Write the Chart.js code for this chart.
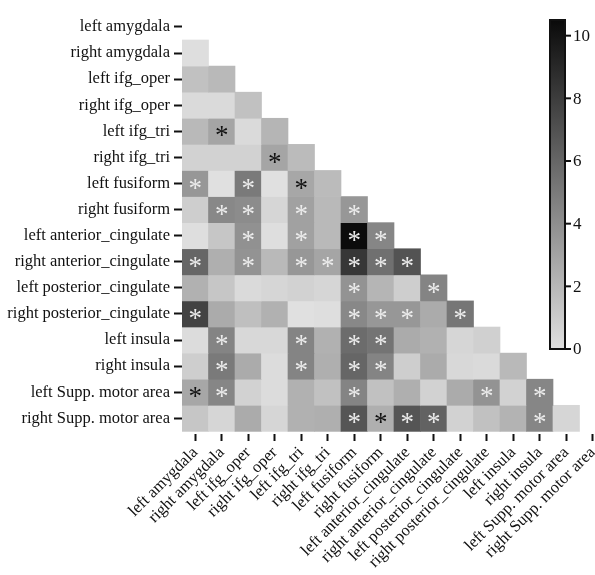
<!DOCTYPE html>
<html>
<head>
<meta charset="utf-8">
<script src="https://cdn.jsdelivr.net/npm/chart.js@4"></script>
<style>
  html, body { margin: 0; padding: 0; background: #fff; overflow: hidden; }
  #wrap { width: 620px; height: 575px; }
</style>
</head>
<body>
<div id="wrap"><canvas id="heat"></canvas></div>
<script>
var regions = [
    'left amygdala', 'right amygdala', 'left ifg_oper', 'right ifg_oper',
    'left ifg_tri', 'right ifg_tri', 'left fusiform', 'right fusiform',
    'left anterior_cingulate', 'right anterior_cingulate',
    'left posterior_cingulate', 'right posterior_cingulate',
    'left insula', 'right insula', 'left Supp. motor area', 'right Supp. motor area'
]
// lower triangle, row i has i values (columns 0..i-1)
var values = [
    [],
    [0.1],
    [1.5, 1.9],
    [0.3, 0.3, 1.5],
    [1.9, 2.9, 0.3, 2.1],
    [0.7, 0.7, 0.7, 2.9, 1.8],
    [3.6, 0.0, 5.0, 0.0, 2.8, 1.8],
    [0.9, 4.3, 4.1, 0.5, 3.1, 1.9, 3.6],
    [0.1, 1.3, 3.9, 0.1, 3.1, 1.9, 10.4, 4.4],
    [6.0, 2.4, 3.8, 1.9, 3.6, 2.9, 8.3, 5.5, 6.9],
    [2.3, 1.3, 0.3, 0.5, 0.7, 0.5, 3.8, 2.1, 0.9, 4.5],
    [7.7, 2.6, 1.6, 2.3, 0.0, 0.1, 4.3, 3.6, 3.6, 2.6, 5.2],
    [0.2, 4.5, 0.4, 0.4, 4.5, 2.3, 5.7, 5.3, 2.6, 2.3, 0.5, 0.8],
    [0.9, 5.0, 2.6, 0.2, 4.5, 2.4, 6.0, 4.5, 0.9, 2.6, 0.4, 0.3, 1.9],
    [2.8, 4.4, 0.7, 0.2, 2.3, 1.5, 4.5, 1.5, 2.4, 0.7, 2.6, 3.8, 0.7, 4.4],
    [1.3, 0.5, 2.6, 0.5, 2.3, 2.4, 6.8, 2.4, 6.8, 6.2, 0.7, 1.5, 2.2, 4.4, 0.5]
]
// significance marks: 'w' = white asterisk, 'b' = black asterisk, '.' = none
var stars = [
    '',
    '.',
    '..',
    '...',
    '.b..',
    '...b.',
    'w.w.b.',
    '.ww.w.w',
    '..w.w.ww',
    'w.w.wwwww',
    '......w..w',
    'w.....www.w',
    '.w..w.ww....',
    '.w..w.ww.....',
    'bw....w....w.w',
    '......wbww...w.'
]
var colorbarTicks = [0, 2, 4, 6, 8, 10]
var colorMax = 10.5

function grey(v) {
    var g = Math.round(224 - Math.min(v, colorMax) / colorMax * 214)
    return 'rgb(' + g + ',' + g + ',' + g + ')'
}

var fontFamily = '"Liberation Serif", "Times New Roman", serif'

var datasets = regions.map(function(row, i) {
    return {
        label: row,
        grouped: false,
        barPercentage: 1,
        categoryPercentage: 1,
        borderWidth: 0,
        data: regions.map(function(col, j) { return j < i ? [i - 0.5, i + 0.5] : null }),
        backgroundColor: regions.map(function(col, j) { return j < i ? grey(values[i][j]) : 'rgba(0,0,0,0)' })
    }
})

// asterisks on significant cells
var starPlugin = {
    id: 'stars',
    afterDatasetsDraw: function(chart) {
        var ctx = chart.ctx
        var xs = chart.scales.x, ys = chart.scales.y
        ctx.save()
        ctx.font = '27px ' + fontFamily
        ctx.textAlign = 'center'
        ctx.textBaseline = 'middle'
        stars.forEach(function(row, i) {
            row.split('').forEach(function(s, j) {
                if (s === '.') return
                ctx.fillStyle = s === 'w' ? '#ececec' : '#111'
                ctx.fillText('*', xs.getPixelForValue(j), ys.getPixelForValue(i) + 6)
            })
        })
        ctx.restore()
    }
}

// colour bar in the upper right
var colorbarPlugin = {
    id: 'colorbar',
    afterDraw: function(chart) {
        var ctx = chart.ctx
        var left = 550, width = 15, top = 20, bottom = 349
        function cbY(v) { return bottom - v / colorMax * (bottom - top) }
        ctx.save()
        var grad = ctx.createLinearGradient(0, bottom, 0, top)
        grad.addColorStop(0, grey(0))
        grad.addColorStop(1, grey(colorMax))
        ctx.fillStyle = grad
        ctx.fillRect(left, top, width, bottom - top)
        ctx.strokeStyle = '#111'
        ctx.lineWidth = 2
        ctx.strokeRect(left, top, width, bottom - top)
        ctx.font = '17px ' + fontFamily
        ctx.fillStyle = '#111'
        ctx.textAlign = 'left'
        ctx.textBaseline = 'middle'
        colorbarTicks.forEach(function(t) {
            var y = cbY(t)
            ctx.beginPath()
            ctx.moveTo(left + width, y)
            ctx.lineTo(left + width + 6, y)
            ctx.stroke()
            ctx.fillText(String(t), left + width + 8, y + 1)
        })
        ctx.restore()
    }
}

var ctx = document.getElementById('heat').getContext('2d')
var heatChart = new Chart(ctx, {
    type: 'bar',
    data: {
        labels: regions,
        datasets: datasets
    },
    options: {
        responsive: true,
        maintainAspectRatio: false,
        animation: false,
        layout: { padding: { top: 4, right: 14, left: 0, bottom: 0 } },
        plugins: {
            legend: { display: false },
            tooltip: { enabled: false }
        },
        scales: {
            x: {
                type: 'category',
                offset: true,
                border: { display: false },
                grid: { display: true, drawOnChartArea: false, offset: false, tickLength: 7, tickWidth: 2, tickColor: '#111' },
                ticks: { autoSkip: false, minRotation: 45, maxRotation: 45, padding: 2, color: '#111', font: { family: fontFamily, size: 16.5 } },
                afterFit: function(scale) { scale.height = 141 }
            },
            y: {
                type: 'linear',
                reverse: true,
                min: -0.5,
                max: 15.6,
                border: { display: false },
                grid: { display: true, drawOnChartArea: false, tickLength: 8, tickWidth: 2, tickColor: '#111' },
                afterBuildTicks: function(scale) {
                    scale.ticks = regions.map(function(r, i) { return { value: i } })
                },
                ticks: {
                    autoSkip: false,
                    padding: 4,
                    color: '#111',
                    font: { family: fontFamily, size: 16.5 },
                    callback: function(value) { return regions[value] }
                },
                afterFit: function(scale) { scale.width = 182 }
            }
        }
    },
    plugins: [starPlugin, colorbarPlugin]
});
</script>
</body>
</html>
